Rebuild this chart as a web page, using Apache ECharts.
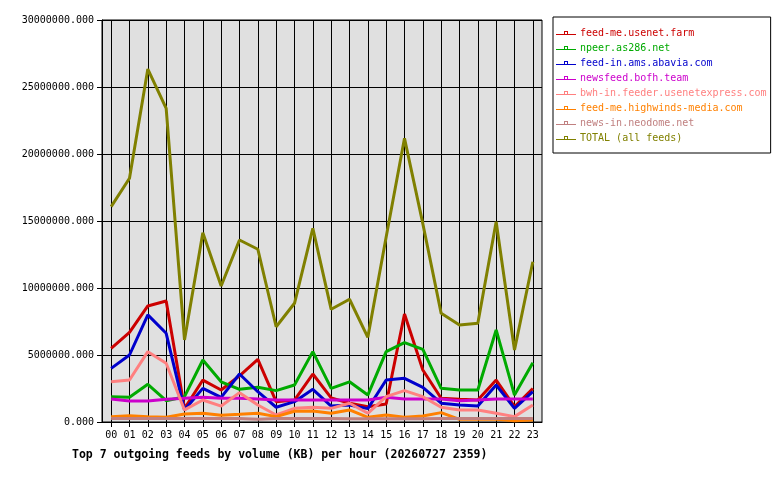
<!DOCTYPE html>
<html>
<head>
<meta charset="utf-8">
<script src="https://cdn.jsdelivr.net/npm/echarts@6/dist/echarts.min.js"></script>
<style>
  html, body { margin: 0; padding: 0; background: #fff; }
  #chart { width: 780px; height: 480px; }
</style>
</head>
<body>
<div id="chart"></div>
<script>
"use strict";
// hours
var hours = ["00", "01", "02", "03", "04", "05", "06", "07", "08", "09", "10", "11",
             "12", "13", "14", "15", "16", "17", "18", "19", "20", "21", "22", "23"];

// KB per hour
var usenetFarm = [5500000, 6690000, 8660000, 9030000, 1000000, 3130000, 2390000, 3450000, 4680000, 1520000, 1640000, 3580000,
                  1800000, 1400000, 1140000, 1340000, 8060000, 3880000, 1770000, 1690000, 1640000, 3130000, 1140000, 2500000];
var as286 = [1890000, 1840000, 2810000, 1590000, 1890000, 4630000, 3000000, 2440000, 2590000, 2340000, 2760000, 5250000,
             2510000, 3000000, 2010000, 5250000, 5920000, 5420000, 2510000, 2390000, 2390000, 6870000, 2010000, 4430000];
var abavia = [4000000, 5000000, 7990000, 6620000, 900000, 2510000, 1840000, 3580000, 2260000, 1100000, 1520000, 2440000,
              1190000, 1270000, 1000000, 3130000, 3260000, 2590000, 1400000, 1270000, 1190000, 2760000, 1020000, 2260000];
var bofh = [1720000, 1570000, 1570000, 1690000, 1770000, 1840000, 1770000, 1770000, 1720000, 1640000, 1640000, 1640000,
            1640000, 1640000, 1640000, 1840000, 1720000, 1720000, 1720000, 1590000, 1640000, 1720000, 1720000, 1720000];
var usenetExpress = [3000000, 3130000, 5250000, 4380000, 900000, 1640000, 1190000, 2190000, 1270000, 520000, 1020000, 1100000,
                     1020000, 1400000, 650000, 1890000, 2340000, 1890000, 1100000, 900000, 900000, 650000, 400000, 1270000];
var highwinds = [400000, 470000, 400000, 350000, 600000, 650000, 500000, 570000, 650000, 400000, 800000, 820000,
                 650000, 900000, 350000, 520000, 350000, 450000, 700000, 200000, 200000, 200000, 100000, 150000];
var neodome = [270000, 270000, 270000, 270000, 270000, 270000, 270000, 270000, 200000, 270000, 270000, 270000,
               270000, 250000, 250000, 250000, 250000, 250000, 270000, 270000, 270000, 270000, 270000, 270000];
var total = [16070000, 18190000, 26340000, 23410000, 6120000, 14130000, 10150000, 13580000, 12890000, 7110000, 8860000, 14450000,
             8410000, 9160000, 6320000, 13800000, 21170000, 14800000, 8110000, 7240000, 7370000, 14950000, 5370000, 11960000];

var yTicks = [0, 5000000, 10000000, 15000000, 20000000, 25000000, 30000000];

var names = ["feed-me.usenet.farm", "npeer.as286.net", "feed-in.ams.abavia.com", "newsfeed.bofh.team",
             "bwh-in.feeder.usenetexpress.com", "feed-me.highwinds-media.com", "news-in.neodome.net", "TOTAL (all feeds)"];
var colors = ["#cc0000", "#00aa00", "#0000cc", "#cc00cc", "#ff8080", "#ff8000", "#c08080", "#808000"];
var values = [usenetFarm, as286, abavia, bofh, usenetExpress, highwinds, neodome, total];

var mono = "DejaVu Sans Mono";
// thin line with a tiny hollow box, like the old legend swatch
var legendIcon = "path://M0,3h20v1h-20z M8,0h4v4h-4z M9,1v2h2v-2z";

var series = names.map(function (n, i) {
    return {
        name: n,
        type: "line",
        data: values[i],
        showSymbol: false,
        lineStyle: {width: 3, color: colors[i]},
        itemStyle: {color: colors[i]},
        emphasis: {disabled: true}
    };
});

var chart = echarts.init(document.getElementById("chart"), null, {renderer: "canvas"});
chart.setOption({
    animation: false,
    backgroundColor: "#ffffff",
    color: colors,
    title: {
        text: "Top 7 outgoing feeds by volume (KB) per hour (20260727 2359)",
        left: 67,
        top: 444,
        textStyle: {fontFamily: mono, fontSize: 11.5, fontWeight: "bold", color: "#000"}
    },
    legend: {
        orient: "vertical",
        left: 553,
        top: 17,
        width: 218,
        padding: [11, 4, 10, 3],
        itemGap: 5,
        itemWidth: 20,
        itemHeight: 11,
        borderColor: "#000",
        borderWidth: 1,
        backgroundColor: "#fff",
        selectedMode: false,
        textStyle: {fontFamily: mono, fontSize: 10, padding: [0, 0, 0, -1]},
        data: names.map(function (n, i) {
            return {name: n, icon: legendIcon, textStyle: {color: colors[i]}};
        })
    },
    grid: {
        left: 102,
        right: 238,
        top: 20,
        bottom: 58,
        show: true,
        backgroundColor: "#e0e0e0",
        borderColor: "#000",
        borderWidth: 1
    },
    xAxis: {
        type: "category",
        data: hours,
        boundaryGap: true,
        axisLine: {show: true, lineStyle: {color: "#000"}},
        axisTick: {show: true, alignWithLabel: true, length: 5, lineStyle: {color: "#000"}},
        splitLine: {show: true, alignWithLabel: true, lineStyle: {color: "#000", width: 1}},
        axisLabel: {fontFamily: mono, fontSize: 10, color: "#000", margin: 8, interval: 0}
    },
    yAxis: {
        type: "value",
        min: yTicks[0],
        max: yTicks[yTicks.length - 1],
        interval: yTicks[1] - yTicks[0],
        axisLine: {show: true, lineStyle: {color: "#000"}},
        axisTick: {show: true, length: 5, lineStyle: {color: "#000"}},
        splitLine: {show: true, lineStyle: {color: "#000", width: 1}},
        axisLabel: {
            fontFamily: mono, fontSize: 10, color: "#000", margin: 8,
            formatter: function (v) { return v.toFixed(3); }
        }
    },
    series: series
});
</script>
</body>
</html>
